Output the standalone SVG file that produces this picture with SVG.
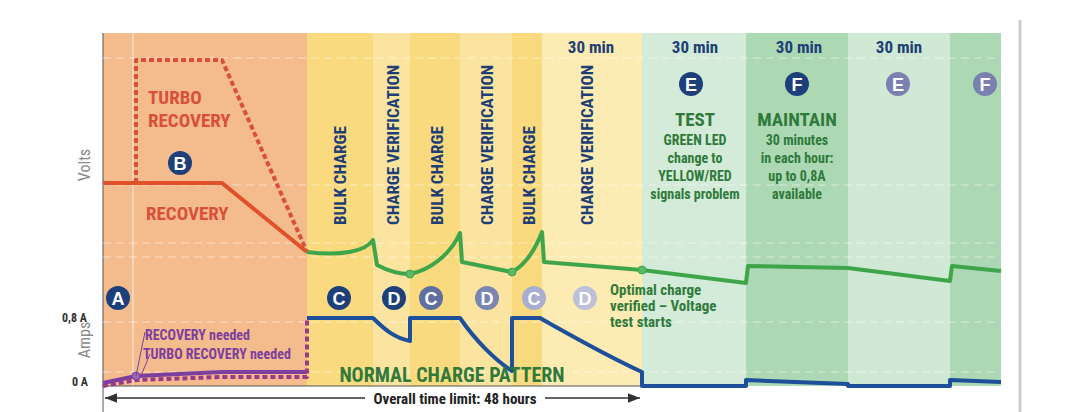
<svg xmlns="http://www.w3.org/2000/svg" width="1079" height="412" viewBox="0 0 1079 412">
<defs>
<style>
text{font-family:"Liberation Sans Narrow","Roboto Condensed","Liberation Sans",Arial,sans-serif;font-weight:bold}
.grid{stroke:#ffffff;stroke-opacity:.55;stroke-width:1.2;stroke-dasharray:8 5;fill:none}
.vl{font-size:17px;fill:#1d3f75}
.g{fill:#2f7a3a}
.circ text{fill:#fff;font-size:18px;text-anchor:middle;font-family:"Liberation Sans",Arial,sans-serif}
</style>
<marker id="ah" viewBox="0 0 10 10" refX="10" refY="5" markerWidth="8" markerHeight="8" orient="auto-start-reverse"><path d="M0,1 L10,5 L0,9 z" fill="#333"/></marker>
</defs>
<rect width="1079" height="412" fill="#ffffff"/>
<g id="bands">
<rect x="103" y="33" width="204" height="353" fill="#f4bb8c"/>
<rect x="307" y="33" width="66" height="353" fill="#f9da7e"/>
<rect x="373" y="33" width="37" height="353" fill="#fbe4a0"/>
<rect x="410" y="33" width="50" height="353" fill="#f9da7e"/>
<rect x="460" y="33" width="52" height="353" fill="#fbe4a0"/>
<rect x="512" y="33" width="30" height="353" fill="#f9da7e"/>
<rect x="542" y="33" width="100" height="353" fill="#fcebb2"/>
<rect x="642" y="33" width="104" height="353" fill="#d3ebd8"/>
<rect x="746" y="33" width="102" height="353" fill="#acd8b4"/>
<rect x="848" y="33" width="102" height="353" fill="#d0e9d4"/>
<rect x="950" y="33" width="51" height="353" fill="#acd8b4"/>
<line x1="1020" y1="20" x2="1020" y2="412" stroke="#cccccc" stroke-width="3"/>
<line x1="103" y1="33" x2="103" y2="412" stroke="#555" stroke-width="1"/>
<line x1="133" y1="33" x2="133" y2="386" stroke="#fff" stroke-opacity=".5" stroke-width="1.5"/>
<line x1="103" y1="386" x2="642" y2="386" stroke="#555" stroke-width="1"/>
</g>
<g id="gridlines">
<path class="grid" d="M103,58H1001M103,185H1001M103,243H1001M103,257H1001M103,322H1001M103,372H1001"/>
</g>
<g id="axis-labels">
<text x="90" y="165" transform="rotate(-90 90 165)" font-size="16" fill="#8a8a8a" style="font-weight:normal" text-anchor="middle">Volts</text>
<text x="90" y="340" transform="rotate(-90 90 340)" font-size="16" fill="#8a8a8a" style="font-weight:normal" text-anchor="middle">Amps</text>
<text x="62" y="322" font-size="12" fill="#333">0,8 A</text>
<text x="72" y="386" font-size="12" fill="#333">0 A</text>
</g>
<g id="connectors" fill="none" stroke-linejoin="round">
<path d="M136,183 V60 H222 L307,252" stroke="#d9503a" stroke-width="4" stroke-dasharray="5 3"/>
<path d="M103,183 H222 L307,252" stroke="#e0502a" stroke-width="4"/>
<path d="M307,252 C340,256 365,252 373,240 L377,265 C390,272 400,274 410,274 C430,270 450,255 460,233 L462,262 L512,272 C525,265 535,250 542,232 L544,262 L642,270 L746,283 L748,266 L848,268 L950,281 L952,266 L1001,271" stroke="#3ea54a" stroke-width="4"/>
<path d="M103,383 L136,376 L222,372 H307" stroke="#7b3fa0" stroke-width="4"/>
<path d="M103,386 L136,380 L222,377 H307 V318" stroke="#9a3a8a" stroke-width="4" stroke-dasharray="5 3"/>
<path d="M307,318 H373 C385,330 395,338 410,341 V318 H460 C475,340 495,360 512,371 V318 H540 C570,335 605,355 642,372 V386 H746 V380 L848,384 V386 H950 V380 L1001,382" stroke="#1d4f9a" stroke-width="4"/>
<g fill="#5eb86a" stroke="#3ea54a" stroke-width="1"><circle cx="410" cy="274" r="4"/><circle cx="512" cy="272" r="4"/><circle cx="642" cy="270" r="4"/><circle cx="136" cy="376" r="4" fill="#9a6ab0" stroke="#7b3fa0"/></g>
<line x1="145" y1="332" x2="136" y2="376" stroke="#7b3fa0" stroke-width="1"/>
<line x1="150" y1="354" x2="140" y2="378" stroke="#7b3fa0" stroke-width="1"/>
<path d="M105,398 H365 M545,398 H640" stroke="#333" stroke-width="1.5" marker-start="url(#ah)" marker-end="url(#ah)"/>
</g>
<g id="texts">
<text x="148" y="104" font-size="19" fill="#d9503a">TURBO</text>
<text x="148" y="127" font-size="19" fill="#d9503a">RECOVERY</text>
<text x="146" y="220" font-size="19" fill="#d9503a">RECOVERY</text>
<text x="145" y="340" font-size="14" fill="#7b3fa0">RECOVERY needed</text>
<text x="143" y="359" font-size="14" fill="#7b3fa0">TURBO RECOVERY needed</text>
<text x="452" y="382" font-size="20" class="g" text-anchor="middle">NORMAL CHARGE PATTERN</text>
<text x="455" y="404" font-size="15" fill="#222" text-anchor="middle">Overall time limit: 48 hours</text>
<text x="346" y="225" class="vl" transform="rotate(-90 346 225)">BULK CHARGE</text>
<text x="399" y="225" class="vl" transform="rotate(-90 399 225)">CHARGE VERIFICATION</text>
<text x="443" y="225" class="vl" transform="rotate(-90 443 225)">BULK CHARGE</text>
<text x="493" y="225" class="vl" transform="rotate(-90 493 225)">CHARGE VERIFICATION</text>
<text x="535" y="225" class="vl" transform="rotate(-90 535 225)">BULK CHARGE</text>
<text x="593" y="225" class="vl" transform="rotate(-90 593 225)">CHARGE VERIFICATION</text>
<g font-size="17" fill="#1d3f75" text-anchor="middle"><text x="591" y="53">30 min</text><text x="695" y="53">30 min</text><text x="799" y="53">30 min</text><text x="899" y="53">30 min</text></g>
<g class="g" text-anchor="middle">
<text x="695" y="126" font-size="19">TEST</text>
<text x="695" y="145" font-size="14">GREEN LED</text>
<text x="695" y="163" font-size="14">change to</text>
<text x="695" y="181" font-size="14">YELLOW/RED</text>
<text x="695" y="199" font-size="14">signals problem</text>
<text x="797" y="126" font-size="19">MAINTAIN</text>
<text x="797" y="145" font-size="14">30 minutes</text>
<text x="797" y="163" font-size="14">in each hour:</text>
<text x="797" y="181" font-size="14">up to 0,8A</text>
<text x="797" y="199" font-size="14">available</text>
</g>
<g class="g" font-size="15"><text x="610" y="295">Optimal charge</text><text x="610" y="311">verified – Voltage</text><text x="610" y="327">test starts</text></g>
</g>
<g id="circles" class="circ">
<g><circle cx="118" cy="298" r="12" fill="#1d3f7a"/><text x="118" y="305">A</text></g>
<g><circle cx="180" cy="163" r="12" fill="#1d3f7a"/><text x="180" y="170">B</text></g>
<g><circle cx="339" cy="298" r="12" fill="#1d3f7a"/><text x="339" y="305">C</text></g>
<g><circle cx="394" cy="298" r="12" fill="#1d3f7a"/><text x="394" y="305">D</text></g>
<g><circle cx="431" cy="298" r="12" fill="#5f6f9f"/><text x="431" y="305">C</text></g>
<g><circle cx="487" cy="298" r="12" fill="#7a86b0"/><text x="487" y="305">D</text></g>
<g><circle cx="534" cy="298" r="12" fill="#a7aed0"/><text x="534" y="305">C</text></g>
<g><circle cx="585" cy="298" r="12" fill="#bcc0d8"/><text x="585" y="305">D</text></g>
<g><circle cx="691" cy="84" r="12" fill="#1d3f7a"/><text x="691" y="91">E</text></g>
<g><circle cx="797" cy="84" r="12" fill="#1d3f7a"/><text x="797" y="91">F</text></g>
<g><circle cx="898" cy="84" r="12" fill="#7a80b0"/><text x="898" y="91">E</text></g>
<g><circle cx="985" cy="84" r="12" fill="#7a80b0"/><text x="985" y="91">F</text></g>
</g>
</svg>
